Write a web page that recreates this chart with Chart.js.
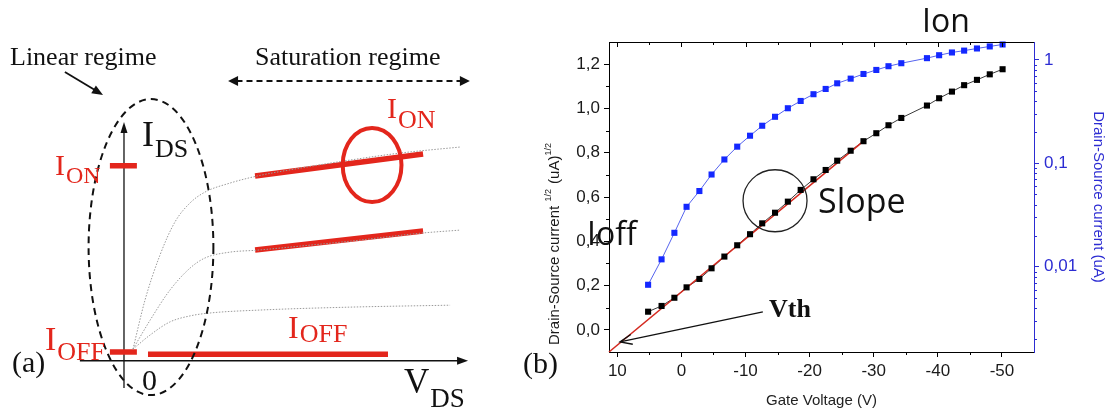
<!DOCTYPE html>
<html>
<head>
<meta charset="utf-8">
<script src="https://cdn.jsdelivr.net/npm/chart.js@4.4.1/dist/chart.umd.min.js"></script>
<style>
  html, body { margin: 0; padding: 0; background: #fff; }
  body { width: 1111px; height: 414px; position: relative; overflow: hidden; }
  .panel { position: absolute; top: 0; height: 414px; }
  #panelA { left: 0; width: 480px; }
  #panelB { left: 520px; width: 591px; }
</style>
</head>
<body>
<div class="panel" id="panelA"><canvas id="schematic"></canvas></div>
<div class="panel" id="panelB"><canvas id="transfer"></canvas></div>
<script>
// ---------- panel (b): transfer curve ----------
const gateVoltage = [5.2, 3.1, 1.1, -0.8, -2.8, -4.7, -6.7, -8.7, -10.7, -12.6, -14.6, -16.6, -18.6, -20.6,
  -22.5, -24.3, -26.4, -28.4, -30.4, -32.3, -34.3, -38.3, -40.2, -42.2, -44.1, -46.1, -48.1, -50.1];
const sqrtDrainCurrent = [0.082, 0.108, 0.145, 0.192, 0.230, 0.278, 0.331, 0.382, 0.432, 0.481, 0.529, 0.579, 0.632, 0.680,
  0.722, 0.764, 0.809, 0.852, 0.888, 0.924, 0.957, 1.013, 1.046, 1.076, 1.105, 1.129, 1.154, 1.177];
const drainCurrent = [0.0067, 0.0118, 0.0213, 0.038, 0.054, 0.078, 0.109, 0.145, 0.185, 0.231, 0.282, 0.341, 0.401, 0.466,
  0.524, 0.594, 0.659, 0.731, 0.800, 0.869, 0.929, 1.04, 1.11, 1.18, 1.23, 1.29, 1.35, 1.41];
const fitVoltage = [11.3, -28.4];
const fitSqrtCurrent = [-0.1, 0.852];

const gateTicks = [10, 0, -10, -20, -30, -40, -50];
const gateMinor = [5, -5, -15, -25, -35, -45];
const sqrtTicks = [0, 0.2, 0.4, 0.6, 0.8, 1.0, 1.2];
const sqrtMinor = [0.1, 0.3, 0.5, 0.7, 0.9, 1.1];
const logTicks = [0.01, 0.1, 1];
const logMinor = [0.002, 0.003, 0.004, 0.005, 0.006, 0.007, 0.008, 0.009,
  0.02, 0.03, 0.04, 0.05, 0.06, 0.07, 0.08, 0.09,
  0.2, 0.3, 0.4, 0.5, 0.6, 0.7, 0.8, 0.9];

// ---------- panel (a): output characteristics sketch ----------
const vdsHigh = [0.3, 0.7, 1.2, 1.7, 2.2, 2.7, 3.53, 4.43, 5.87, 7.53, 9.2, 11.2];
const idsHigh = [0.06, 0.311, 0.542, 0.712, 0.809, 0.865, 0.911, 0.947, 0.988, 1.029, 1.065, 1.096];
const vdsMid = [0.3, 0.87, 1.53, 2.2, 2.7, 3.53, 4.43, 5.87, 7.53, 9.87, 11.2];
const idsMid = [0.06, 0.208, 0.362, 0.475, 0.527, 0.557, 0.567, 0.588, 0.613, 0.654, 0.67];
const vdsLow = [0.3, 0.87, 1.53, 2.2, 2.87, 4.53, 7.53, 10.87];
const idsLow = [0.06, 0.132, 0.199, 0.23, 0.245, 0.26, 0.275, 0.285];
const satVds = [4.37, 9.97];
const satIdsHigh = [0.947, 1.06];
const satIdsMid = [0.568, 0.665];
const offVds = [0.8, 8.8];
const offIds = [0.034, 0.034];
const markVds = [-0.47, 0.43];
const markOn = [1.0, 1.0];
const markOff = [0.045, 0.045];

const RED = '#e3261c';
const BLUE = '#2c2cd2';
const SERIF = '"Liberation Serif", "Times New Roman", serif';
const SANS = '"Liberation Sans", Arial, sans-serif';

const pts = (xs, ys) => xs.map((v, i) => ({ x: v, y: ys[i] }));

function line(ctx, x1, y1, x2, y2) {
  ctx.beginPath(); ctx.moveTo(x1, y1); ctx.lineTo(x2, y2); ctx.stroke();
}
function arrowHead(ctx, tx, ty, angle, len, half, filled) {
  const bx = tx - len * Math.cos(angle), by = ty - len * Math.sin(angle);
  const nx = -Math.sin(angle) * half, ny = Math.cos(angle) * half;
  ctx.beginPath();
  ctx.moveTo(bx + nx, by + ny); ctx.lineTo(tx, ty); ctx.lineTo(bx - nx, by - ny);
  if (filled) { ctx.closePath(); ctx.fill(); } else { ctx.stroke(); }
}
// text with a subscript
function subText(ctx, x, y, main, sub, size, subSize, drop, color) {
  ctx.fillStyle = color;
  ctx.font = size + 'px ' + SERIF;
  ctx.fillText(main, x, y);
  const w = ctx.measureText(main).width;
  ctx.font = subSize + 'px ' + SERIF;
  ctx.fillText(sub, x + w + 1, y + drop);
}

// ----- panel (a) decorations -----
const sketchDecor = {
  id: 'sketchDecor',
  beforeDatasetsDraw(chart) {
    const { ctx, scales: { x, y } } = chart;
    ctx.save();
    ctx.strokeStyle = '#111'; ctx.fillStyle = '#111'; ctx.lineWidth = 1.3;
    // I_DS axis
    const x0 = x.getPixelForValue(0), y0 = y.getPixelForValue(0);
    line(ctx, x0, y.getPixelForValue(-0.14), x0, y.getPixelForValue(1.19));
    arrowHead(ctx, x0, y.getPixelForValue(1.225), -Math.PI / 2, 11, 3.5, true);
    // V_DS axis
    line(ctx, x.getPixelForValue(-1.47), y0, x.getPixelForValue(11.2), y0);
    arrowHead(ctx, x.getPixelForValue(11.47), y0, 0, 11, 4, true);
    ctx.restore();
  },
  afterDatasetsDraw(chart) {
    const { ctx, scales: { x, y } } = chart;
    ctx.save();
    // dashed ellipse around the linear regime
    ctx.strokeStyle = '#111'; ctx.lineWidth = 2; ctx.setLineDash([7, 5]);
    ctx.beginPath();
    ctx.ellipse(x.getPixelForValue(0.9), y.getPixelForValue(0.583),
      x.getPixelForValue(2.08) - x.getPixelForValue(0), y.getPixelForValue(0) - y.getPixelForValue(0.759), 0, 0, Math.PI * 2);
    ctx.stroke();
    // dashed double arrow for saturation regime
    ctx.lineWidth = 2; ctx.setLineDash([6, 4]);
    const ys = y.getPixelForValue(1.435);
    line(ctx, x.getPixelForValue(3.75), ys, x.getPixelForValue(11.25), ys);
    ctx.setLineDash([]);
    ctx.fillStyle = '#111';
    arrowHead(ctx, x.getPixelForValue(3.47), ys, Math.PI, 10, 5, true);
    arrowHead(ctx, x.getPixelForValue(11.53), ys, 0, 10, 5, true);
    // red ellipse around I_ON
    ctx.strokeStyle = RED; ctx.lineWidth = 4;
    ctx.beginPath();
    ctx.ellipse(x.getPixelForValue(8.27), y.getPixelForValue(1.004),
      x.getPixelForValue(0.98) - x.getPixelForValue(0), y.getPixelForValue(0) - y.getPixelForValue(0.19), 0, 0, Math.PI * 2);
    ctx.stroke();
    // arrow from "Linear regime"
    ctx.strokeStyle = '#111'; ctx.fillStyle = '#111'; ctx.lineWidth = 1.8;
    const ax1 = x.getPixelForValue(-1.97), ay1 = y.getPixelForValue(1.481);
    const ax2 = x.getPixelForValue(-0.7), ay2 = y.getPixelForValue(1.363);
    const ang = Math.atan2(ay2 - ay1, ax2 - ax1);
    line(ctx, ax1, ay1, ax2 - 8 * Math.cos(ang), ay2 - 8 * Math.sin(ang));
    arrowHead(ctx, ax2, ay2, ang, 11, 4.5, true);

    // labels
    ctx.textBaseline = 'alphabetic'; ctx.textAlign = 'left';
    ctx.fillStyle = '#111';
    ctx.font = '26px ' + SERIF;
    ctx.fillText('Linear regime', 10, 65);
    ctx.fillText('Saturation regime', 255, 65);
    ctx.font = '30px ' + SERIF;
    ctx.fillText('(a)', 12, 372);
    ctx.fillText('0', 142, 390);
    subText(ctx, 142, 146, 'I', 'DS', 36, 26, 11, '#111');
    subText(ctx, 404, 393, 'V', 'DS', 35, 27, 14, '#111');
    subText(ctx, 55, 175, 'I', 'ON', 30, 24, 8, RED);
    subText(ctx, 45, 350, 'I', 'OFF', 34, 26, 10, RED);
    subText(ctx, 387, 118, 'I', 'ON', 30, 26, 10, RED);
    subText(ctx, 288, 338, 'I', 'OFF', 32, 26, 4, RED);
    ctx.restore();
  }
};

const dotted = { showLine: true, pointRadius: 0, borderColor: '#9a9a9a', borderWidth: 1, borderDash: [1.5, 1.5], cubicInterpolationMode: 'monotone' };
const redBar = { showLine: true, pointRadius: 0, borderColor: RED, borderWidth: 5.5, borderCapStyle: 'butt' };

new Chart(document.getElementById('schematic'), {
  type: 'scatter',
  data: {
    datasets: [
      { ...dotted, data: pts(vdsHigh, idsHigh) },
      { ...dotted, data: pts(vdsMid, idsMid) },
      { ...dotted, data: pts(vdsLow, idsLow) },
      { ...redBar, data: pts(satVds, satIdsHigh) },
      { ...redBar, data: pts(satVds, satIdsMid) },
      { ...redBar, data: pts(offVds, offIds) },
      { ...redBar, data: pts(markVds, markOn) },
      { ...redBar, data: pts(markVds, markOff) }
    ]
  },
  options: {
    responsive: true, maintainAspectRatio: false, animation: false,
    layout: { padding: 0 },
    plugins: { legend: { display: false }, tooltip: { enabled: false } },
    scales: {
      x: { type: 'linear', display: false, min: -4.133, max: 11.867 },
      y: { type: 'linear', display: false, min: -0.273, max: 1.85 }
    }
  },
  plugins: [sketchDecor]
});

// ----- panel (b) decorations -----
const transferDecor = {
  id: 'transferDecor',
  afterDraw(chart) {
    const { ctx, chartArea: a, scales: { x, y, y2 } } = chart;
    ctx.save();
    ctx.strokeStyle = '#000'; ctx.lineWidth = 1;
    line(ctx, a.left, a.top + 0.5, a.right, a.top + 0.5);
    gateTicks.forEach(v => { const px = Math.round(x.getPixelForValue(v)) + 0.5; line(ctx, px, a.top, px, a.top + 5); });
    gateMinor.forEach(v => {
      const px = Math.round(x.getPixelForValue(v)) + 0.5;
      line(ctx, px, a.top, px, a.top + 3);
      line(ctx, px, a.bottom, px, a.bottom + 3);
    });
    sqrtMinor.forEach(v => { const py = Math.round(y.getPixelForValue(v)) + 0.5; line(ctx, a.left - 3, py, a.left, py); });
    ctx.strokeStyle = BLUE;
    logMinor.forEach(v => { const py = Math.round(y2.getPixelForValue(v)) + 0.5; line(ctx, a.right, py, a.right + 3, py); });

    // circle around the slope
    ctx.strokeStyle = '#222'; ctx.lineWidth = 1.3;
    ctx.beginPath();
    ctx.ellipse(x.getPixelForValue(-14.6), y.getPixelForValue(0.583), 32, 31, 0, 0, Math.PI * 2);
    ctx.stroke();

    // Vth arrow
    ctx.strokeStyle = '#111'; ctx.lineWidth = 1.4;
    const tx1 = x.getPixelForValue(-12.7), ty1 = y.getPixelForValue(0.081);
    const tx2 = x.getPixelForValue(9.58), ty2 = y.getPixelForValue(-0.054);
    line(ctx, tx1, ty1, tx2, ty2);
    const ang = Math.atan2(ty2 - ty1, tx2 - tx1);
    arrowHead(ctx, tx2, ty2, ang, 12, 5, false);

    // annotations
    ctx.textAlign = 'left'; ctx.textBaseline = 'alphabetic';
    ctx.fillStyle = '#111';
    ctx.font = '32px "Open Sans", sans-serif';
    ctx.fillText('Ion', 402, 32);
    ctx.fillText('Ioff', 67, 245);
    ctx.font = '34px "Open Sans", sans-serif';
    ctx.fillText('Slope', 298, 213);
    ctx.font = 'bold 26px ' + SERIF;
    ctx.fillText('Vth', 249, 317);
    ctx.font = '30px ' + SERIF;
    ctx.fillText('(b)', 3, 373);

    // left axis title with superscripts
    ctx.translate(35, 345);
    ctx.rotate(-Math.PI / 2);
    ctx.textBaseline = 'middle';
    ctx.fillStyle = '#1a1a1a';
    const parts = [['Drain-Source current ', 15, 0], ['1/2', 9, -6], [' (uA)', 15, 0], ['1/2', 9, -6]];
    let cx = 0;
    parts.forEach(([t, s, dy]) => {
      ctx.font = s + 'px ' + SANS;
      ctx.fillText(t, cx, dy);
      cx += ctx.measureText(t).width + (s < 15 ? 1 : 0);
    });
    ctx.restore();
  }
};

new Chart(document.getElementById('transfer'), {
  type: 'scatter',
  data: {
    datasets: [
      { data: pts(gateVoltage, sqrtDrainCurrent), showLine: true, pointRadius: 0, borderColor: '#3a3a3a', borderWidth: 1, yAxisID: 'y', order: 4, clip: false },
      { data: pts(fitVoltage, fitSqrtCurrent), showLine: true, pointRadius: 0, borderColor: '#d42a20', borderWidth: 1.6, yAxisID: 'y', order: 3, clip: false },
      { data: pts(gateVoltage, sqrtDrainCurrent), showLine: false, pointStyle: 'rect', pointRadius: 4.3, pointBorderWidth: 0,
        pointBackgroundColor: '#000', pointBorderColor: '#000', yAxisID: 'y', order: 2, clip: false },
      { data: pts(gateVoltage, drainCurrent), showLine: true, borderColor: '#5563ee', borderWidth: 1, pointStyle: 'rect', pointRadius: 4.3,
        pointBorderWidth: 0, pointBackgroundColor: '#1428ff', pointBorderColor: '#1428ff', yAxisID: 'y2', order: 1, clip: false }
    ]
  },
  options: {
    responsive: true, maintainAspectRatio: false, animation: false,
    layout: { padding: { top: 42, left: 0, right: 0, bottom: 0 } },
    plugins: { legend: { display: false }, tooltip: { enabled: false } },
    scales: {
      x: {
        type: 'linear', reverse: true, min: -55, max: 11.3,
        afterBuildTicks: s => { s.ticks = gateTicks.map(v => ({ value: v })); },
        afterFit: s => { s.height = 62; },
        grid: { drawOnChartArea: false, drawTicks: true, tickLength: 5, color: '#000' },
        border: { display: true, color: '#000', width: 1 },
        ticks: { color: '#1a1a1a', font: { family: SANS, size: 17 }, padding: 4, maxRotation: 0, autoSkip: false, callback: v => String(v) },
        title: { display: true, text: 'Gate Voltage (V)', color: '#222', font: { family: SANS, size: 15 }, padding: { top: 4, bottom: 4 } }
      },
      y: {
        type: 'linear', position: 'left', min: -0.1, max: 1.3,
        afterBuildTicks: s => { s.ticks = sqrtTicks.map(v => ({ value: v })); },
        afterFit: s => { s.width = 89; },
        grid: { drawOnChartArea: false, drawTicks: true, tickLength: 5, color: '#000' },
        border: { display: true, color: '#000', width: 1 },
        ticks: { color: '#1a1a1a', font: { family: SANS, size: 17 }, padding: 4, callback: v => v.toFixed(1).replace('.', ',') }
      },
      y2: {
        type: 'logarithmic', position: 'right', min: 0.0015, max: 1.49,
        afterBuildTicks: s => { s.ticks = logTicks.map(v => ({ value: v })); },
        afterFit: s => { s.width = 77; },
        grid: { drawOnChartArea: false, drawTicks: true, tickLength: 5, color: BLUE },
        border: { display: true, color: BLUE, width: 1 },
        ticks: { color: BLUE, font: { family: SANS, size: 17 }, padding: 5, callback: v => String(v).replace('.', ',') },
        title: { display: true, text: 'Drain-Source current (uA)', color: BLUE, font: { family: SANS, size: 15 }, padding: { top: 4, bottom: 4 } }
      }
    }
  },
  plugins: [transferDecor]
});
</script>
</body>
</html>
